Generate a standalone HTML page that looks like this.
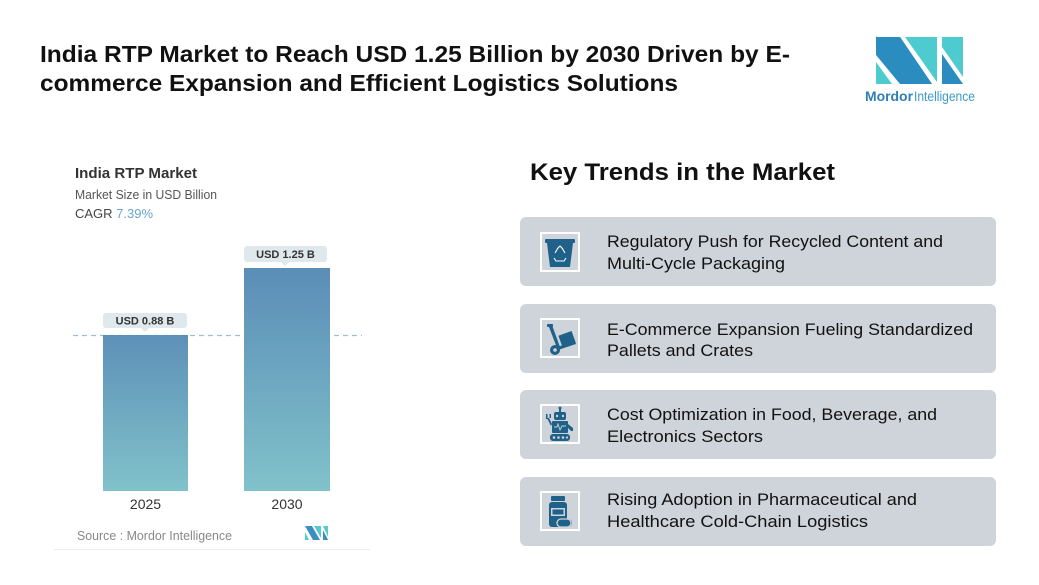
<!DOCTYPE html>
<html><head><meta charset="utf-8"><style>
html,body{margin:0;padding:0;background:#fff;}
svg{display:block;}
</style></head><body>
<svg width="1039" height="585" viewBox="0 0 1039 585" xmlns="http://www.w3.org/2000/svg" font-family="Liberation Sans, sans-serif">
<defs>
<linearGradient id="bar" x1="0" y1="0" x2="0" y2="1">
<stop offset="0" stop-color="#5b8db7"/>
<stop offset="1" stop-color="#80c2ca"/>
</linearGradient>
<linearGradient id="bar2" x1="0" y1="0" x2="0" y2="1">
<stop offset="0" stop-color="#5e90b8"/>
<stop offset="1" stop-color="#80c2ca"/>
</linearGradient>
</defs>
<rect width="1039" height="585" fill="#fff"/>

<!-- Title -->
<text x="40" y="62" font-size="23" font-weight="bold" fill="#111" textLength="750" lengthAdjust="spacingAndGlyphs">India RTP Market to Reach USD 1.25 Billion by 2030 Driven by E-</text>
<text x="40" y="91" font-size="23" font-weight="bold" fill="#111" textLength="638" lengthAdjust="spacingAndGlyphs">commerce Expansion and Efficient Logistics Solutions</text>

<!-- Logo -->
<g>
<polygon points="876,37 900,37 932,84 909,84 876,36" fill="#2b8cc0"/>
<polygon points="876,37 900,37 932,84 900,84 876,55" fill="#2b8cc0"/>
<polygon points="876,62 876,84 892,84" fill="#4ecbcf"/>
<polygon points="905,37 937,37 937,82" fill="#4ecbcf"/>
<polygon points="942,37 963,37 963,77 942,47" fill="#4ecbcf"/>
<polygon points="942,54 963,84 942,84" fill="#2b8cc0"/>
<text x="865" y="101" font-size="13.5" font-weight="bold" fill="#2f7fb2" textLength="48" lengthAdjust="spacingAndGlyphs">Mordor</text>
<text x="914" y="101" font-size="13.5" fill="#3b9cc4" textLength="61" lengthAdjust="spacingAndGlyphs">Intelligence</text>
</g>

<!-- Chart -->
<text x="75" y="178" font-size="15" font-weight="bold" fill="#333" textLength="122" lengthAdjust="spacingAndGlyphs">India RTP Market</text>
<text x="75" y="199" font-size="13" fill="#555" textLength="142" lengthAdjust="spacingAndGlyphs">Market Size in USD Billion</text>
<text x="75" y="218" font-size="13" fill="#444">CAGR <tspan fill="#6aa6cf">7.39%</tspan></text>

<line x1="73" y1="335.5" x2="362" y2="335.5" stroke="#9cbfd2" stroke-width="1.2" stroke-dasharray="5,4"/>
<rect x="103" y="335" width="85" height="156" fill="url(#bar2)"/>
<rect x="244" y="268" width="86" height="223" fill="url(#bar)"/>

<rect x="103" y="313" width="84" height="15" rx="3" fill="#dfe8ec"/>
<polygon points="141,328 149,328 145,332" fill="#dfe8ec"/>
<text x="145" y="324.5" font-size="11" font-weight="bold" fill="#333" text-anchor="middle">USD 0.88 B</text>
<rect x="244" y="246" width="83" height="16" rx="3" fill="#dfe8ec"/>
<polygon points="281,262 289,262 285,266" fill="#dfe8ec"/>
<text x="285.5" y="258" font-size="11" font-weight="bold" fill="#333" text-anchor="middle">USD 1.25 B</text>

<text x="145.5" y="509" font-size="14" fill="#333" text-anchor="middle">2025</text>
<text x="287" y="509" font-size="14" fill="#333" text-anchor="middle">2030</text>

<text x="77" y="540" font-size="13" fill="#888" textLength="155" lengthAdjust="spacingAndGlyphs">Source :  Mordor Intelligence</text>
<g>
<polygon points="305,526 312,526 320,540 313,540" fill="#3a8fc0"/>
<polygon points="305,532 305,540 309,540" fill="#56c9cf"/>
<polygon points="314,526 321,526 321,538" fill="#56c9cf"/>
<polygon points="323,526 328,526 328,537" fill="#56c9cf"/>
<polygon points="323,530 328,540 323,540" fill="#3a8fc0"/>
</g>
<line x1="54" y1="549.5" x2="370" y2="549.5" stroke="#eeeeee" stroke-width="1"/>

<!-- Key trends -->
<text x="530" y="180" font-size="24" font-weight="bold" fill="#111" textLength="305" lengthAdjust="spacingAndGlyphs">Key Trends in the Market</text>

<g>
<rect x="520" y="217" width="476" height="69" rx="6" fill="#cfd4db"/>
<rect x="520" y="304" width="476" height="69" rx="6" fill="#cfd4db"/>
<rect x="520" y="390" width="476" height="69" rx="6" fill="#cfd4db"/>
<rect x="520" y="477" width="476" height="69" rx="6" fill="#cfd4db"/>
</g>

<g font-size="17" fill="#111">
<text x="607" y="247" textLength="336" lengthAdjust="spacingAndGlyphs">Regulatory Push for Recycled Content and</text>
<text x="607" y="269" textLength="178" lengthAdjust="spacingAndGlyphs">Multi-Cycle Packaging</text>
<text x="607" y="335" textLength="366" lengthAdjust="spacingAndGlyphs">E-Commerce Expansion Fueling Standardized</text>
<text x="607" y="356" textLength="146" lengthAdjust="spacingAndGlyphs">Pallets and Crates</text>
<text x="607" y="420" textLength="330" lengthAdjust="spacingAndGlyphs">Cost Optimization in Food, Beverage, and</text>
<text x="607" y="442" textLength="156" lengthAdjust="spacingAndGlyphs">Electronics Sectors</text>
<text x="607" y="505" textLength="310" lengthAdjust="spacingAndGlyphs">Rising Adoption in Pharmaceutical and</text>
<text x="607" y="527" textLength="261" lengthAdjust="spacingAndGlyphs">Healthcare Cold-Chain Logistics</text>
</g>

<!-- Icon frames -->
<g fill="none" stroke="#fff" stroke-width="2">
<rect x="541" y="233" width="38" height="38"/>
<rect x="541" y="319" width="38" height="38"/>
<rect x="541" y="405" width="38" height="38"/>
<rect x="541" y="492" width="38" height="38"/>
</g>

<!-- Icon 1: recycle bin -->
<g fill="#1f6189">
<rect x="545" y="239" width="30" height="4" rx="1"/>
<polygon points="547,243 573,243 570,267 550,267"/>
</g>
<g fill="none" stroke="#fff" stroke-width="1.1">
<polyline points="558,248 555,253"/>
<polyline points="562,248 565,253"/>
<polyline points="554,258 556,261 564,261 566,258"/>
<polyline points="557,249 560,246 563,249"/>
</g>

<!-- Icon 2: hand truck -->
<g fill="#1f6189">
<polygon points="549,327 552,325 560,347 557,348"/>
<rect x="547" y="324" width="6" height="3" rx="1"/>
<rect x="560" y="333" width="14" height="12" transform="rotate(-20 567 339)"/>
<polygon points="557,347 575,341 576,344 558,350"/>
<circle cx="555" cy="350" r="5"/>
</g>
<circle cx="555" cy="350" r="1.8" fill="#cfd4db"/>

<!-- Icon 3: robot -->
<g fill="#1f6189">
<rect x="559" y="408" width="2" height="4"/>
<circle cx="560" cy="408" r="1.5"/>
<rect x="554" y="412" width="12" height="8" rx="2"/>
<rect x="552" y="421" width="16" height="12" rx="1"/>
<rect x="550" y="434" width="20" height="7" rx="3"/>
<polygon points="547,418 549,418 552,424 551,426"/>
<polygon points="568,424 573,428 573,431 571,431 567,427"/>
<rect x="546" y="414" width="1.5" height="5"/>
<rect x="549.5" y="414" width="1.5" height="4"/>
</g>
<g fill="#cfd4db">
<circle cx="557" cy="416" r="1.2"/><circle cx="563" cy="416" r="1.2"/>
<circle cx="554" cy="437.5" r="1.3"/><circle cx="558.5" cy="437.5" r="1.3"/><circle cx="563" cy="437.5" r="1.3"/><circle cx="567" cy="437.5" r="1.1"/>
</g>
<polyline points="554,427 557,427 558,424 560,430 562,426 566,426" fill="none" stroke="#cfd4db" stroke-width="0.9"/>

<!-- Icon 4: pill bottle -->
<g fill="#1f6189">
<rect x="551" y="496" width="14" height="5" rx="1"/>
<rect x="549" y="502" width="18" height="25" rx="3"/>
<rect x="556" y="519" width="16" height="8" rx="4"/>
</g>
<rect x="551" y="508" width="14" height="8" fill="#cfd4db"/>
<rect x="552.5" y="509.5" width="11" height="5" fill="#1f6189"/>
<rect x="557" y="519" width="14" height="8" rx="4" fill="none" stroke="#cfd4db" stroke-width="1.3"/>
<rect x="559" y="521" width="6" height="4" rx="2" fill="#1f6189"/>
</svg>
</body></html>
